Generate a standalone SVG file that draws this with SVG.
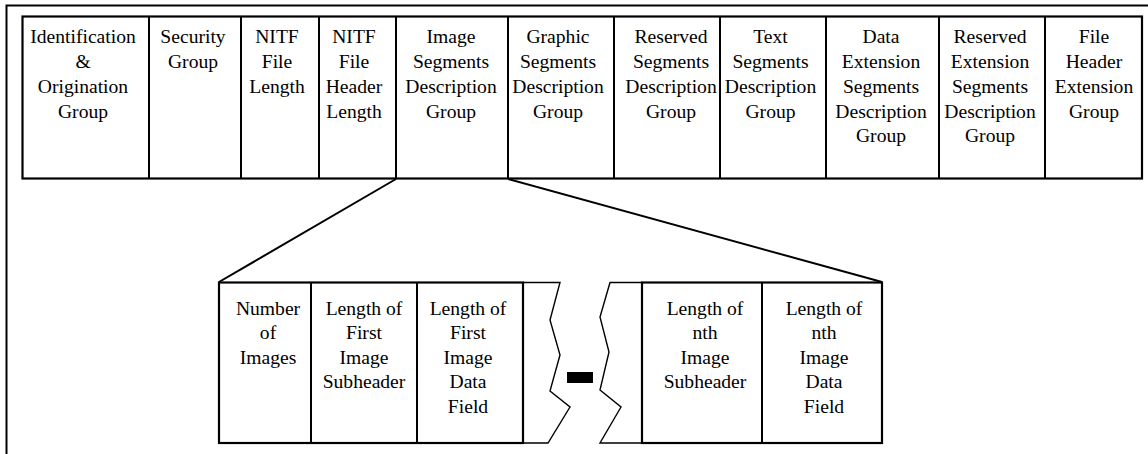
<svg xmlns="http://www.w3.org/2000/svg" width="1148" height="454" viewBox="0 0 1148 454" font-family="'Liberation Serif', 'Times New Roman', Tinos, 'DejaVu Serif', serif">
<style>
text{font-family:'Liberation Serif','Times New Roman',Tinos,'DejaVu Serif',serif;font-size:19.6px;fill:#000;text-anchor:middle}
.box{fill:#fff;stroke:#000;stroke-width:2.2}
.div{stroke:#000;stroke-width:2}
.ln{stroke:#000;stroke-width:2;fill:none}
.zz{stroke:#000;stroke-width:1.4;fill:none}
</style>
<rect width="1148" height="454" fill="#fff"/>
<path class="ln" d="M6.5,454 V5.5 H1148"/>
<g id="connectors">
<line class="ln" x1="396" y1="179" x2="219" y2="282"/>
<line class="ln" x1="508" y1="179" x2="882" y2="282"/>
</g>
<g id="header-table">
<rect class="box" x="22.5" y="16.5" width="1119.5" height="162"/>
<g class="div">
<line x1="149" y1="16.5" x2="149" y2="178.5"/>
<line x1="241" y1="16.5" x2="241" y2="178.5"/>
<line x1="319" y1="16.5" x2="319" y2="178.5"/>
<line x1="396" y1="16.5" x2="396" y2="178.5"/>
<line x1="508" y1="16.5" x2="508" y2="178.5"/>
<line x1="614" y1="16.5" x2="614" y2="178.5"/>
<line x1="720" y1="16.5" x2="720" y2="178.5"/>
<line x1="826" y1="16.5" x2="826" y2="178.5"/>
<line x1="939" y1="16.5" x2="939" y2="178.5"/>
<line x1="1045" y1="16.5" x2="1045" y2="178.5"/>
</g>
</g>
<g id="n-ident"><text x="83" y="43">Identification</text><text x="83" y="68">&amp;</text><text x="83" y="93">Origination</text><text x="83" y="118">Group</text></g>
<g id="n-security"><text x="193" y="43">Security</text><text x="193" y="68">Group</text></g>
<g id="n-filelength"><text x="277" y="43">NITF</text><text x="277" y="68">File</text><text x="277" y="93">Length</text></g>
<g id="n-headerlength"><text x="354" y="43">NITF</text><text x="354" y="68">File</text><text x="354" y="93">Header</text><text x="354" y="118">Length</text></g>
<g id="n-image"><text x="451" y="43">Image</text><text x="451" y="68">Segments</text><text x="451" y="93">Description</text><text x="451" y="118">Group</text></g>
<g id="n-graphic"><text x="558" y="43">Graphic</text><text x="558" y="68">Segments</text><text x="558" y="93">Description</text><text x="558" y="118">Group</text></g>
<g id="n-reserved"><text x="671" y="43">Reserved</text><text x="671" y="68">Segments</text><text x="671" y="93">Description</text><text x="671" y="118">Group</text></g>
<g id="n-text"><text x="770.5" y="43">Text</text><text x="770.5" y="68">Segments</text><text x="770.5" y="93">Description</text><text x="770.5" y="118">Group</text></g>
<g id="n-dataext"><text x="881" y="43">Data</text><text x="881" y="68">Extension</text><text x="881" y="93">Segments</text><text x="881" y="118">Description</text><text x="881" y="142">Group</text></g>
<g id="n-resext"><text x="990" y="43">Reserved</text><text x="990" y="68">Extension</text><text x="990" y="93">Segments</text><text x="990" y="118">Description</text><text x="990" y="142">Group</text></g>
<g id="n-fileext"><text x="1094" y="43">File</text><text x="1094" y="68">Header</text><text x="1094" y="93">Extension</text><text x="1094" y="118">Group</text></g>
<g id="detail-left">
<path class="zz" d="M523,282.5 H560 L550,320 L560,355 L550,391 L570,407 L548,443 H523"/>
<rect class="box" x="219" y="282.5" width="304" height="160.5"/>
<line class="div" x1="311" y1="282.5" x2="311" y2="443"/>
<line class="div" x1="417" y1="282.5" x2="417" y2="443"/>
</g>
<g id="n-number"><text x="268" y="315">Number</text><text x="268" y="339">of</text><text x="268" y="364">Images</text></g>
<g id="n-firstsub"><text x="364" y="315">Length of</text><text x="364" y="339">First</text><text x="364" y="364">Image</text><text x="364" y="388">Subheader</text></g>
<g id="n-firstdata"><text x="468" y="315">Length of</text><text x="468" y="339">First</text><text x="468" y="364">Image</text><text x="468" y="388">Data</text><text x="468" y="413">Field</text></g>
<g id="ellipsis"><rect x="567" y="372" width="26" height="11" fill="#000"/></g>
<g id="detail-right">
<path class="zz" d="M642,282.5 H610 L600,317 L609,352 L600,390 L621,407 L600,443 H642"/>
<rect class="box" x="642" y="282.5" width="240" height="160.5"/>
<line class="div" x1="762" y1="282.5" x2="762" y2="443"/>
</g>
<g id="n-nthsub"><text x="705" y="315">Length of</text><text x="705" y="339">nth</text><text x="705" y="364">Image</text><text x="705" y="388">Subheader</text></g>
<g id="n-nthdata"><text x="824" y="315">Length of</text><text x="824" y="339">nth</text><text x="824" y="364">Image</text><text x="824" y="388">Data</text><text x="824" y="413">Field</text></g>
</svg>
